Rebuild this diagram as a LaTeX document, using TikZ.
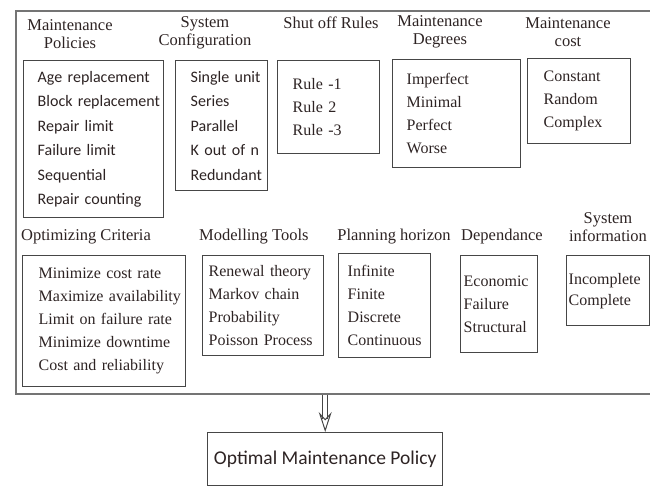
\documentclass[tikz,border=0pt]{standalone}
\usepackage{fontspec}
\setmainfont{Liberation Serif}
\newfontfamily\calib{Carlito}
\usetikzlibrary{arrows.meta}
\hyphenpenalty=10000
\hbadness=10000
\hfuzz=100pt
\definecolor{boxgray}{RGB}{70,70,70}
\definecolor{inkgray}{RGB}{45,35,35}
\tikzset{
  hd/.style={align=center, inner sep=0pt, text=inkgray,
    font=\fontsize{16.5}{18.5}\selectfont},
  lst/.style={draw=boxgray, line width=1.4pt, anchor=north west, align=left,
    text=inkgray, font=\fontsize{16}{23}\selectfont},
  sanslst/.style={lst, font=\calib\fontsize{16}{24.5}\selectfont},
  arr/.style={draw=boxgray, line width=1pt, double=white, double distance=3.5pt,
    -{Stealth[open, length=20pt, width=13pt, inset=7pt, line width=1pt]}},
}

\begin{document}
\begin{tikzpicture}[x=1pt,y=-1pt]
  \clip (0,0) rectangle (650,487);
  \node[draw=boxgray!75, line width=1.8pt, anchor=north west,
    minimum width=647pt, minimum height=383pt] (frame) at (15,10) {};

  % top row
  \node[hd] (polhd) at (70,34) {Maintenance\\Policies};
  \node[sanslst, text width=112pt, inner xsep=14pt, minimum height=157pt] (pol) at (23,60)
    {Age~replacement\\Block~replacement\\Repair~limit\\Failure~limit\\Sequential\\Repair~counting};

  \node[hd] (cfghd) at (205,33) {System\\Configuration};
  \node[sanslst, text width=62pt, inner xsep=15pt, minimum height=130pt] (cfg) at (175,60)
    {Single~unit\\Series\\Parallel\\K~out~of~n\\Redundant};

  \node[hd] (rulhd) at (331,23) {Shut off Rules};
  \node[lst, text width=72pt, inner xsep=15pt, minimum height=93pt] (rul) at (277,60)
    {Rule~-1\\Rule~2\\Rule~-3};

  \node[hd] (deghd) at (440,32) {Maintenance\\Degrees};
  \node[lst, text width=100pt, inner xsep=14pt, minimum height=108pt] (deg) at (392,59)
    {Imperfect\\Minimal\\Perfect\\Worse};

  \node[hd] (csthd) at (568,32) {Maintenance\\cost};
  \node[lst, text width=71pt, inner xsep=16pt, minimum height=85pt] (cst) at (527,58)
    {Constant\\Random\\Complex};

  % bottom row
  \node[hd, anchor=west] (crthd) at (21,237) {Optimizing Criteria};
  \node[lst, text width=131pt, inner xsep=16pt, minimum height=131pt] (crt) at (22,255)
    {Minimize~cost~rate\\Maximize~availability\\Limit~on~failure~rate\\Minimize~downtime\\Cost~and~reliability};

  \node[hd, anchor=west] (tlshd) at (199,237) {Modelling Tools};
  \node[lst, text width=109pt, inner xsep=6pt, minimum height=100pt] (tls) at (202,255)
    {Renewal~theory\\Markov~chain\\Probability\\Poisson~Process};

  \node[hd] (hrzhd) at (394,237) {Planning horizon};
  \node[lst, text width=74pt, inner xsep=9pt, minimum height=104pt] (hrz) at (338,253)
    {Infinite\\Finite\\Discrete\\Continuous};

  \node[hd] (dephd) at (502,237) {Dependance};
  \node[lst, text width=71pt, inner xsep=3pt, minimum height=97pt] (dep) at (460,255)
    {Economic\\Failure\\Structural};

  \node[hd] (infhd) at (608,227) {System\\information};
  \node[lst, text width=79pt, inner xsep=2pt, minimum height=70pt,
    font=\fontsize{16}{21}\selectfont] (inf) at (566,255)
    {Incomplete\\Complete};

  % result
  \node[draw=boxgray, line width=1.4pt, anchor=north west, text=inkgray,
    minimum width=235pt, minimum height=53pt,
    font=\calib\fontsize{19.5}{22}\selectfont] (opt) at (207,432) {Optimal Maintenance Policy};
  \draw[arr] (frame.south -| opt.north) -- (opt.north);
\end{tikzpicture}
\end{document}
